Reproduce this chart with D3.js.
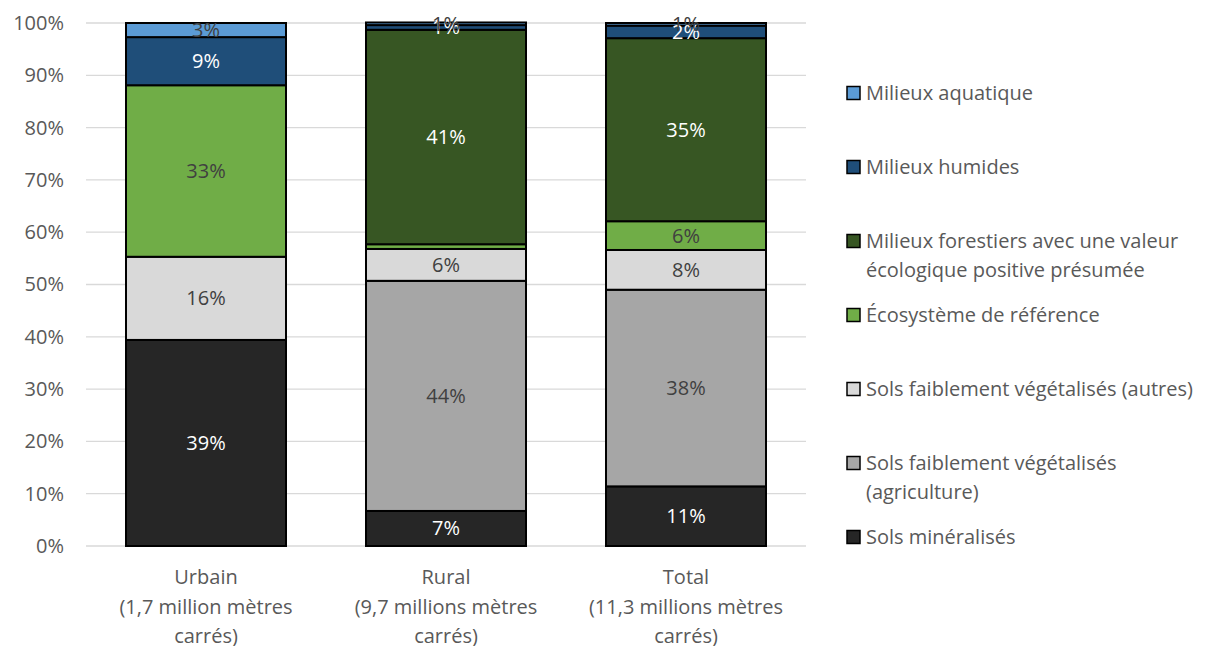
<!DOCTYPE html>
<html><head><meta charset="utf-8">
<script src="https://cdn.jsdelivr.net/npm/d3@7"></script>
<style>body{margin:0;background:#fff;} svg{display:block;font-family:"Open Sans", Lato, sans-serif;}</style>
</head><body><svg id="c" width="1212" height="646"></svg>
<script>
const categories = ["Urbain", "Rural", "Total"];
const categoryLines = [
  ["Urbain", "(1,7 million mètres", "carrés)"],
  ["Rural", "(9,7 millions mètres", "carrés)"],
  ["Total", "(11,3 millions mètres", "carrés)"]
];
const seriesNames = [
  "Sols minéralisés",
  "Sols faiblement végétalisés (agriculture)",
  "Sols faiblement végétalisés (autres)",
  "Écosystème de référence",
  "Milieux forestiers avec une valeur écologique positive présumée",
  "Milieux humides",
  "Milieux aquatique"
];
const mineralises   = [39.4, 6.7, 11.4];
const agriculture   = [0, 44.0, 37.6];
const autres        = [15.9, 6.1, 7.6];
const ecosysteme    = [32.8, 0.9, 5.5];
const forestiers    = [0, 41.0, 35.0];
const humides       = [9.2, 0.9, 2.4];
const aquatique     = [2.7, 0.5, 0.5];
const hiddenLabels  = ["Rural|Écosystème de référence"];
const yTicks = [0,10,20,30,40,50,60,70,80,90,100];
const legendLines = [
  ["Milieux aquatique"],
  ["Milieux humides"],
  ["Milieux forestiers avec une valeur", "écologique positive présumée"],
  ["Écosystème de référence"],
  ["Sols faiblement végétalisés (autres)"],
  ["Sols faiblement végétalisés", "(agriculture)"],
  ["Sols minéralisés"]
];

const seriesValues = [mineralises, agriculture, autres, ecosysteme, forestiers, humides, aquatique];
const colors = ["#262626", "#A6A6A6", "#D9D9D9", "#70AD47", "#375623", "#1F4E79", "#5B9BD5"];
const labelColors = ["#fff", "#404040", "#404040", "#404040", "#fff", "#fff", "#404040"];

const rows = categories.map((c, i) => {
  const r = {cat: c};
  seriesNames.forEach((s, j) => r[s] = seriesValues[j][i]);
  return r;
});
const stacked = d3.stack().keys(seriesNames)(rows);

const svg = d3.select("#c");
const mLeft = 86, mRight = 806, mTop = 23, mBottom = 546;
const x = d3.scaleBand().domain(categories).range([mLeft, mRight]).paddingInner(1/3).paddingOuter(1/6);
const y = d3.scaleLinear().domain([0, 100]).range([mBottom, mTop]);
const txt = "#595959";
const fs = 20;
const ff = "'Open Sans', Lato, sans-serif";

// gridlines
svg.append("g").selectAll("line").data(yTicks).join("line")
  .attr("x1", mLeft).attr("x2", mRight)
  .attr("y1", d => y(d)).attr("y2", d => y(d))
  .attr("stroke", "#D9D9D9").attr("stroke-width", 1.3);

// y axis
const yAxis = d3.axisLeft(y).tickValues(yTicks).tickSize(0).tickPadding(22).tickFormat(d => d + "%");
const gy = svg.append("g").attr("transform", `translate(${mLeft},0)`).call(yAxis);
gy.select(".domain").remove();
gy.selectAll("text").attr("fill", txt).style("font-size", fs + "px").style("font-family", ff);

// bars
const layers = svg.append("g").selectAll("g").data(stacked).join("g")
  .attr("fill", (d, i) => colors[i]);
layers.selectAll("rect").data(d => d.map(p => ({p, key: d.key}))).join("rect")
  .attr("x", d => x(d.p.data.cat))
  .attr("width", x.bandwidth())
  .attr("y", d => y(d.p[1]))
  .attr("height", d => y(d.p[0]) - y(d.p[1]))
  .attr("stroke", "#000").attr("stroke-width", 2);

// labels
const lg = svg.append("g");
stacked.forEach((layer, j) => {
  layer.forEach(p => {
    const v = p[1] - p[0];
    if (v <= 0) return;
    if (hiddenLabels.includes(p.data.cat + "|" + layer.key)) return;
    lg.append("text")
      .attr("x", x(p.data.cat) + x.bandwidth() / 2)
      .attr("y", (y(p[0]) + y(p[1])) / 2)
      .attr("dy", "0.35em")
      .attr("text-anchor", "middle")
      .attr("fill", labelColors[j])
      .style("font-size", fs + "px")
      .text(Math.round(v) + "%");
  });
});

// x labels
const xg = svg.append("g");
categories.forEach((c, i) => {
  const t = xg.append("text").attr("text-anchor", "middle").attr("fill", txt).style("font-size", fs + "px");
  categoryLines[i].forEach((ln, k) => {
    t.append("tspan").attr("x", x(c) + x.bandwidth() / 2).attr("y", 584 + k * 29.5).text(ln);
  });
});

// legend
const legY = d3.scalePoint().domain(d3.range(legendLines.length)).range([93, 537]);
const legColors = colors.slice().reverse();
const leg = svg.append("g");
legendLines.forEach((lines, i) => {
  const cy = legY(i);
  leg.append("rect").attr("x", 847).attr("y", cy - 6.5).attr("width", 13).attr("height", 13)
    .attr("fill", legColors[i]).attr("stroke", "#000").attr("stroke-width", 1.5);
  const t = leg.append("text").attr("fill", txt).style("font-size", fs + "px");
  lines.forEach((ln, k) => {
    t.append("tspan").attr("x", 866).attr("y", cy + 7 + k * 29).text(ln);
  });
});
</script></body></html>
